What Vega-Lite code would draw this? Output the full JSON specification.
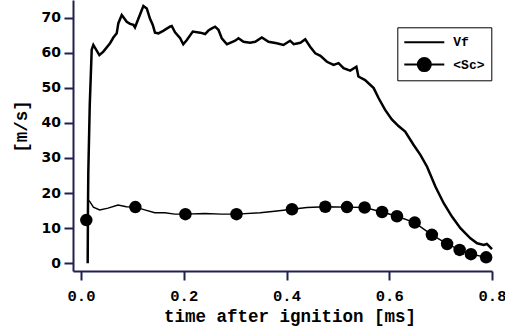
{
  "$schema": "https://vega.github.io/schema/vega-lite/v6.json",
  "width": 419,
  "height": 271,
  "autosize": {"type": "none"},
  "padding": {"left": 73, "top": 0, "right": 13, "bottom": 65},
  "background": "white",
  "config": {
    "view": {"stroke": null},
    "axis": {
      "grid": false,
      "domain": true,
      "ticks": true,
      "domainColor": "#202050",
      "domainWidth": 2,
      "tickColor": "#202050",
      "tickWidth": 2,
      "tickSize": 9,
      "labelColor": "black",
      "titleColor": "black",
      "titleFont": "Liberation Mono",
      "titleFontWeight": "bold",
      "titleFontSize": 17.5
    }
  },
  "datasets": {
    "vf": [
      {"series":"Vf","t":0.013,"v":0},{"series":"Vf","t":0.0135,"v":15},{"series":"Vf","t":0.0142,"v":26},{"series":"Vf","t":0.017,"v":45},{"series":"Vf","t":0.0208,"v":60.8},{"series":"Vf","t":0.024,"v":62.2},
      {"series":"Vf","t":0.0357,"v":59.3},{"series":"Vf","t":0.0435,"v":60.3},{"series":"Vf","t":0.0565,"v":62.7},{"series":"Vf","t":0.063,"v":64.3},{"series":"Vf","t":0.0695,"v":65.5},{"series":"Vf","t":0.0727,"v":68.4},
      {"series":"Vf","t":0.0793,"v":70.7},{"series":"Vf","t":0.089,"v":68.8},{"series":"Vf","t":0.0955,"v":68.2},{"series":"Vf","t":0.102,"v":67.9},{"series":"Vf","t":0.105,"v":67.2},{"series":"Vf","t":0.112,"v":69.8},
      {"series":"Vf","t":0.1214,"v":73.3},{"series":"Vf","t":0.128,"v":72.6},{"series":"Vf","t":0.134,"v":69.8},{"series":"Vf","t":0.1397,"v":67.9},{"series":"Vf","t":0.144,"v":65.7},{"series":"Vf","t":0.1507,"v":65.5},
      {"series":"Vf","t":0.16,"v":66.2},{"series":"Vf","t":0.173,"v":67.4},{"series":"Vf","t":0.1767,"v":67.6},{"series":"Vf","t":0.183,"v":65.8},{"series":"Vf","t":0.193,"v":64.1},{"series":"Vf","t":0.199,"v":62.4},
      {"series":"Vf","t":0.206,"v":63.6},{"series":"Vf","t":0.2176,"v":66.0},{"series":"Vf","t":0.232,"v":65.7},{"series":"Vf","t":0.2416,"v":65.3},{"series":"Vf","t":0.248,"v":66.3},{"series":"Vf","t":0.2547,"v":66.9},
      {"series":"Vf","t":0.261,"v":67.4},{"series":"Vf","t":0.2675,"v":66.5},{"series":"Vf","t":0.274,"v":64.1},{"series":"Vf","t":0.284,"v":62.4},{"series":"Vf","t":0.2937,"v":63.0},{"series":"Vf","t":0.3,"v":63.4},
      {"series":"Vf","t":0.3065,"v":64.1},{"series":"Vf","t":0.3163,"v":63.1},{"series":"Vf","t":0.329,"v":62.8},{"series":"Vf","t":0.339,"v":63.1},{"series":"Vf","t":0.352,"v":64.3},{"series":"Vf","t":0.365,"v":63.1},
      {"series":"Vf","t":0.381,"v":62.7},{"series":"Vf","t":0.394,"v":62.2},{"series":"Vf","t":0.407,"v":63.4},{"series":"Vf","t":0.414,"v":62.4},{"series":"Vf","t":0.427,"v":62.8},{"series":"Vf","t":0.4365,"v":63.8},
      {"series":"Vf","t":0.446,"v":61.7},{"series":"Vf","t":0.456,"v":59.8},{"series":"Vf","t":0.466,"v":59.1},{"series":"Vf","t":0.4787,"v":57.4},{"series":"Vf","t":0.4917,"v":56.5},{"series":"Vf","t":0.5014,"v":57.0},
      {"series":"Vf","t":0.511,"v":55.6},{"series":"Vf","t":0.524,"v":54.9},{"series":"Vf","t":0.536,"v":56.0},{"series":"Vf","t":0.54,"v":53.2},{"series":"Vf","t":0.553,"v":52.2},{"series":"Vf","t":0.5697,"v":49.9},
      {"series":"Vf","t":0.5794,"v":47.0},{"series":"Vf","t":0.592,"v":43.7},{"series":"Vf","t":0.605,"v":41.0},{"series":"Vf","t":0.618,"v":39.1},{"series":"Vf","t":0.631,"v":37.5},{"series":"Vf","t":0.6475,"v":33.7},
      {"series":"Vf","t":0.6606,"v":30.9},{"series":"Vf","t":0.6736,"v":27.5},{"series":"Vf","t":0.69,"v":21.8},{"series":"Vf","t":0.706,"v":17.1},{"series":"Vf","t":0.722,"v":13.3},{"series":"Vf","t":0.7385,"v":10.0},
      {"series":"Vf","t":0.758,"v":7.1},{"series":"Vf","t":0.771,"v":5.7},{"series":"Vf","t":0.784,"v":5.2},{"series":"Vf","t":0.79,"v":5.5},{"series":"Vf","t":0.8,"v":4.0}
    ],
    "scline": [
      {"series":"<Sc>","t":0.0135,"v":18.0},{"series":"<Sc>","t":0.017,"v":17.6},{"series":"<Sc>","t":0.024,"v":16.0},{"series":"<Sc>","t":0.0364,"v":15.2},{"series":"<Sc>","t":0.0526,"v":15.7},{"series":"<Sc>","t":0.0721,"v":16.6},
      {"series":"<Sc>","t":0.0883,"v":16.1},{"series":"<Sc>","t":0.1058,"v":16.0},{"series":"<Sc>","t":0.124,"v":15.2},{"series":"<Sc>","t":0.1436,"v":14.4},{"series":"<Sc>","t":0.163,"v":14.4},{"series":"<Sc>","t":0.1826,"v":14.0},
      {"series":"<Sc>","t":0.2032,"v":14.0},{"series":"<Sc>","t":0.241,"v":14.2},{"series":"<Sc>","t":0.2734,"v":14.0},{"series":"<Sc>","t":0.3026,"v":14.0},{"series":"<Sc>","t":0.3488,"v":14.4},{"series":"<Sc>","t":0.3813,"v":14.9},
      {"series":"<Sc>","t":0.4106,"v":15.4},{"series":"<Sc>","t":0.4398,"v":15.9},{"series":"<Sc>","t":0.4755,"v":16.1},{"series":"<Sc>","t":0.5177,"v":16.0},{"series":"<Sc>","t":0.552,"v":15.9},{"series":"<Sc>","t":0.586,"v":14.6},
      {"series":"<Sc>","t":0.615,"v":13.4},{"series":"<Sc>","t":0.6495,"v":11.6},{"series":"<Sc>","t":0.683,"v":8.1},{"series":"<Sc>","t":0.7126,"v":5.5},{"series":"<Sc>","t":0.737,"v":3.8},{"series":"<Sc>","t":0.759,"v":2.6},{"series":"<Sc>","t":0.7886,"v":1.7}
    ],
    "scpts": [
      {"series":"<Sc>","t":0.0103,"v":12.3},{"series":"<Sc>","t":0.1058,"v":16.0},{"series":"<Sc>","t":0.2032,"v":14.0},{"series":"<Sc>","t":0.3026,"v":14.0},{"series":"<Sc>","t":0.4106,"v":15.4},{"series":"<Sc>","t":0.4755,"v":16.1},
      {"series":"<Sc>","t":0.5177,"v":16.0},{"series":"<Sc>","t":0.552,"v":15.9},{"series":"<Sc>","t":0.586,"v":14.6},{"series":"<Sc>","t":0.615,"v":13.4},{"series":"<Sc>","t":0.6495,"v":11.6},{"series":"<Sc>","t":0.683,"v":8.1},
      {"series":"<Sc>","t":0.7126,"v":5.5},{"series":"<Sc>","t":0.737,"v":3.8},{"series":"<Sc>","t":0.759,"v":2.6},{"series":"<Sc>","t":0.7886,"v":1.7}
    ]
  },
  "encoding": {
    "x": {
      "field": "t", "type": "quantitative",
      "scale": {"domain": [-0.0156, 0.8], "nice": false, "zero": false},
      "axis": {
        "values": [0, 0.2, 0.4, 0.6, 0.8], "format": ".1f",
        "labelFont": "Liberation Mono", "labelFontWeight": "bold", "labelFontSize": 15.5,
        "labelPadding": 8, "labelFlush": false,
        "title": "time after ignition [ms]", "titleX": 216.5, "titlePadding": 4
      }
    },
    "y": {
      "field": "v", "type": "quantitative",
      "scale": {"domain": [-2.2, 75], "nice": false, "zero": false},
      "axis": {
        "values": [0, 10, 20, 30, 40, 50, 60, 70],
        "labelFont": "DejaVu Sans", "labelFontWeight": "bold", "labelFontSize": 14,
        "labelPadding": 3.5,
        "title": "[m/s]", "titleY": 126, "titlePadding": 11
      }
    },
    "color": {
      "field": "series", "type": "nominal",
      "scale": {"domain": ["Vf", "<Sc>"], "range": ["black", "black"]},
      "legend": {
        "title": null,
        "orient": "none", "legendX": 324.3, "legendY": 27.3,
        "strokeColor": "black", "fillColor": "white",
        "padding": 6, "rowPadding": 4.3, "clipHeight": 18,
        "symbolSize": 1600, "symbolOffset": 0, "labelOffset": 8,
        "labelFont": "Liberation Mono", "labelFontWeight": "bold", "labelFontSize": 13, "labelColor": "black",
        "encode": {
          "symbols": {
            "update": {
              "shape": {"signal": "datum.value === 'Vf' ? 'M-1,0H1' : 'M-1,0H1M0.325,0A0.325,0.325,0,1,1,-0.325,0A0.325,0.325,0,1,1,0.325,0Z'"},
              "fill": {"value": "black"},
              "stroke": {"value": "black"},
              "strokeWidth": {"value": 2}
            }
          }
        }
      }
    }
  },
  "layer": [
    {
      "data": {"name": "scline"},
      "mark": {"type": "line", "strokeWidth": 1.4}
    },
    {
      "data": {"name": "vf"},
      "mark": {"type": "line", "strokeWidth": 2.5}
    },
    {
      "data": {"name": "scpts"},
      "mark": {"type": "point", "filled": true, "size": 156, "opacity": 1, "shape": "circle"}
    }
  ]
}
